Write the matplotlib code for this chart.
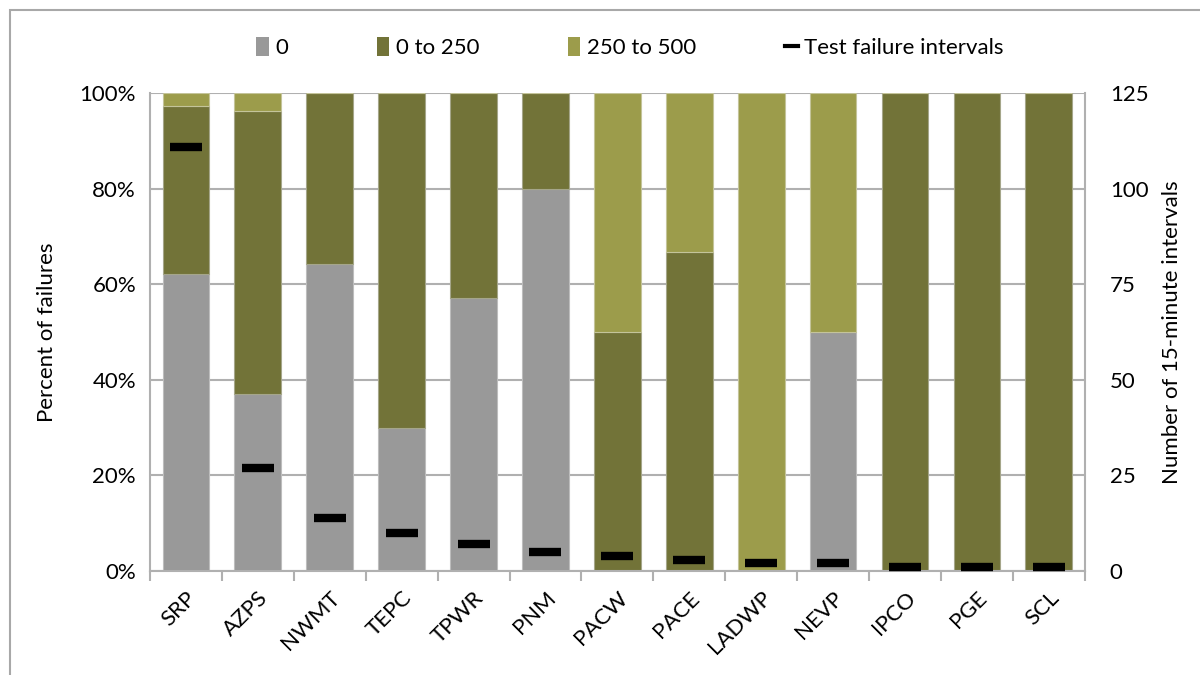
import matplotlib
matplotlib.use("Agg")
import matplotlib.pyplot as plt
import numpy as np
from matplotlib.patches import Rectangle, Patch
from matplotlib.lines import Line2D
from matplotlib.ticker import FuncFormatter, MultipleLocator

plt.rcParams['font.family'] = ['Lato', 'DejaVu Sans']

categories = ["SRP", "AZPS", "NWMT", "TEPC", "TPWR", "PNM", "PACW", "PACE",
              "LADWP", "NEVP", "IPCO", "PGE", "SCL"]
pct_0 = [62.2, 37.0, 64.3, 30.0, 57.1, 80.0, 0, 0, 0, 50.0, 0, 0, 0]
pct_0_250 = [35.1, 59.3, 35.7, 70.0, 42.9, 20.0, 50.0, 66.7, 0, 0, 100, 100, 100]
pct_250_500 = [2.7, 3.7, 0, 0, 0, 0, 50.0, 33.3, 100, 50.0, 0, 0, 0]
intervals = [111, 27, 14, 10, 7, 5, 4, 3, 2, 2, 1, 1, 1]

c0 = "#999999"
c1 = "#727338"
c2 = "#9C9C4B"

fig = plt.figure(figsize=(12, 6.75), dpi=100)
ax = fig.add_axes([0.125, 0.154, 0.779, 0.708])
x = np.arange(len(categories))
w = 0.65
b0 = np.array(pct_0)
b1 = np.array(pct_0_250)
b2 = np.array(pct_250_500)
ax.bar(x, b0, w, color=c0, edgecolor="#BDBDBD", linewidth=0.8, zorder=2)
ax.bar(x, b1, w, bottom=b0, color=c1, edgecolor="#A5A68A", linewidth=0.8, zorder=2)
ax.bar(x, b2, w, bottom=b0 + b1, color=c2, edgecolor="#C4C49A", linewidth=0.8, zorder=2)

ax.set_xlim(-0.5, len(categories) - 0.5)
ax.set_ylim(0, 100)
ax.yaxis.set_major_locator(MultipleLocator(20))
ax.yaxis.set_major_formatter(FuncFormatter(lambda v, p: f"{int(v)}%"))
ax.grid(axis='y', color="#B0B0B0", linewidth=1.5, zorder=0)
ax.set_axisbelow(True)
for s in ['left', 'right', 'bottom']:
    ax.spines[s].set_color("#B0B0B0")
    ax.spines[s].set_linewidth(1.5)
ax.spines['top'].set_visible(False)
ax.set_xticks(x)
ax.set_xticklabels(categories, rotation=45, ha='right', rotation_mode='anchor', fontsize=16)
ax.tick_params(axis='x', length=0, pad=12)
ax.set_xticks(np.arange(len(categories) + 1) - 0.5, minor=True)
ax.tick_params(axis='x', which='minor', length=7, width=1.5, color="#B0B0B0")
ax.tick_params(axis='y', length=0, labelsize=16, pad=10)
ax.set_ylabel("Percent of failures", fontsize=16, labelpad=16)

ax2 = ax.twinx()
ax2.set_ylim(0, 125)
ax2.yaxis.set_major_locator(MultipleLocator(25))
ax2.plot(x, intervals, linestyle='none', marker='_', markersize=23, mew=6,
         color='black', zorder=5)
for s in ax2.spines.values():
    s.set_visible(False)
ax2.tick_params(axis='y', length=0, labelsize=16, pad=18)
ax2.set_ylabel("Number of 15-minute intervals", fontsize=16, labelpad=10)

handles = [Patch(facecolor=c0), Patch(facecolor=c1), Patch(facecolor=c2),
           Line2D([0], [0], color='black', lw=3)]
labels = ["0", "0 to 250", "250 to 500", "Test failure intervals"]
fig.legend(handles, labels, loc='center', bbox_to_anchor=(0.525, 0.929), ncol=4,
           frameon=False, fontsize=16, handlelength=0.55, handleheight=0.9,
           handletextpad=0.3, columnspacing=4.0)

fig.patches.append(Rectangle((10 / 1200, -0.1), 1.2, 1 - 10 / 675 + 0.1,
                             transform=fig.transFigure, fill=False,
                             edgecolor="#A8A8A8", linewidth=1.5))

fig.savefig("out.png", dpi=100)
